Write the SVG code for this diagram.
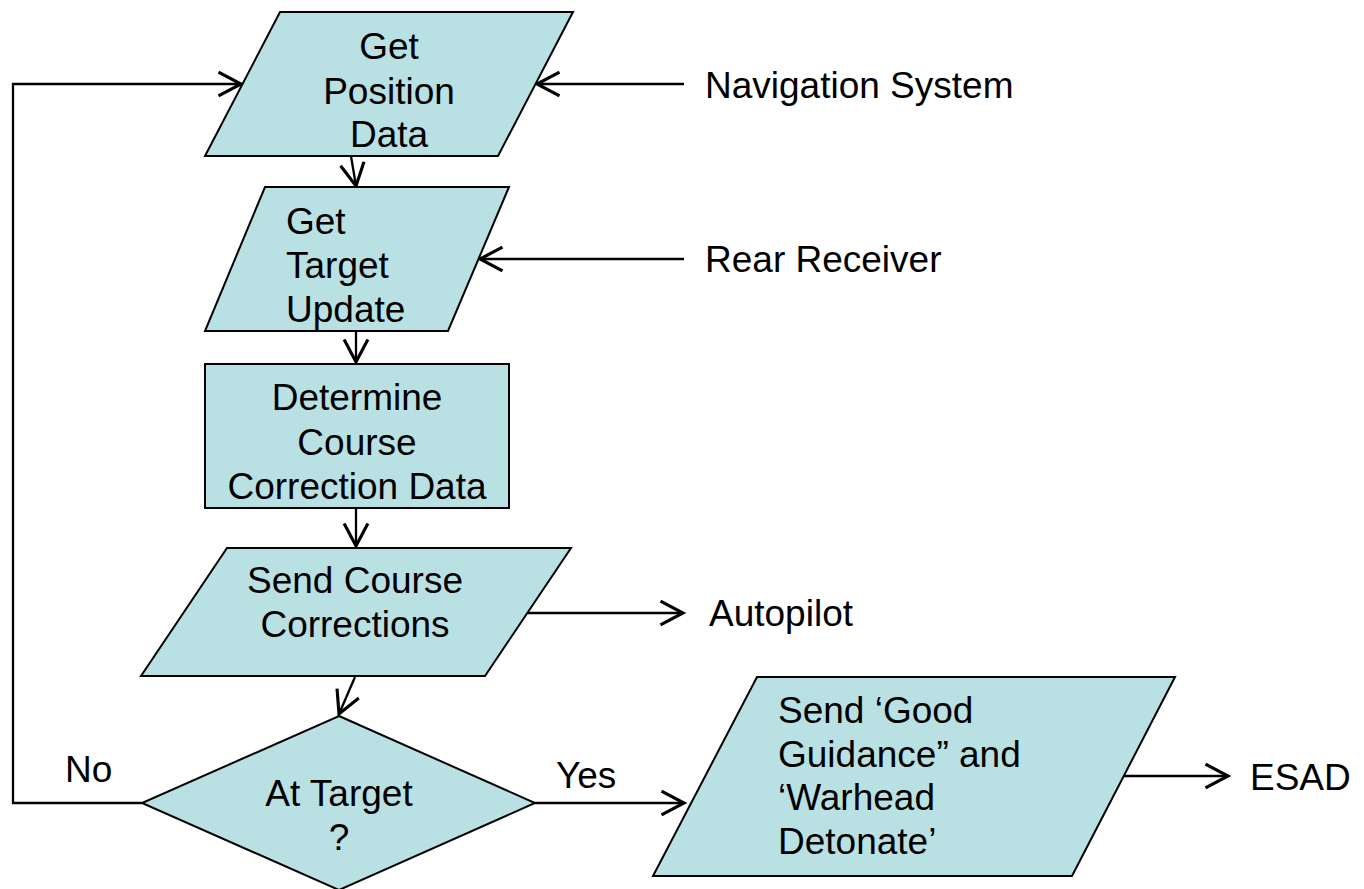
<svg xmlns="http://www.w3.org/2000/svg" width="1364" height="889" viewBox="0 0 1364 889">
<defs>
<style>
.n{fill:#B9E0E3;stroke:#000;stroke-width:2;stroke-linejoin:miter}
.t{font-family:"Liberation Sans",Arial,sans-serif;font-size:37px;fill:#000}
.c{text-anchor:middle}
.e{fill:none;stroke:#000;stroke-width:2.3}
</style>
<marker id="a" markerUnits="userSpaceOnUse" markerWidth="30" markerHeight="30" viewBox="-20 -12 22 24" refX="0" refY="0" orient="auto">
<path d="M-18,-9.5 L0,0 L-18,9.5" fill="none" stroke="#000" stroke-width="2.5"/>
</marker>
</defs>
<rect width="1364" height="889" fill="#fff"/>
<g id="connectors">
<polyline class="e" points="142,803 13,803 13,84 241,84" marker-end="url(#a)"/>
<line class="e" x1="684" y1="84" x2="537" y2="84" marker-end="url(#a)"/>
<line class="e" x1="351" y1="156" x2="356" y2="186" marker-end="url(#a)"/>
<line class="e" x1="684" y1="259" x2="480" y2="259" marker-end="url(#a)"/>
<line class="e" x1="356" y1="331" x2="356" y2="362" marker-end="url(#a)"/>
<line class="e" x1="356" y1="508" x2="356" y2="546" marker-end="url(#a)"/>
<line class="e" x1="528" y1="613" x2="683" y2="613" marker-end="url(#a)"/>
<line class="e" x1="355" y1="677" x2="339" y2="714" marker-end="url(#a)"/>
<line class="e" x1="535" y1="803" x2="684" y2="803" marker-end="url(#a)"/>
<line class="e" x1="1122" y1="776" x2="1228" y2="776" marker-end="url(#a)"/>
</g>
<g id="get-position">
<polygon class="n" points="280,12 573,12 498,156 205,156"/>
<text class="t c" x="389" y="59">Get</text>
<text class="t c" x="389" y="104">Position</text>
<text class="t c" x="389" y="147">Data</text>
</g>
<g id="get-target">
<polygon class="n" points="265,187 509,187 448,331 205,331"/>
<text class="t" x="286" y="234">Get</text>
<text class="t" x="286" y="278">Target</text>
<text class="t" x="286" y="322">Update</text>
</g>
<g id="determine">
<rect class="n" x="205" y="364" width="304" height="144"/>
<text class="t c" x="357" y="410">Determine</text>
<text class="t c" x="357" y="455">Course</text>
<text class="t c" x="357" y="499">Correction Data</text>
</g>
<g id="send-corrections">
<polygon class="n" points="227,548 571,548 485,676 141,676"/>
<text class="t c" x="355" y="593">Send Course</text>
<text class="t c" x="355" y="637">Corrections</text>
</g>
<g id="at-target">
<polygon class="n" points="339,716 535,803 339,890 142,803"/>
<text class="t c" x="339" y="806">At Target</text>
<text class="t c" x="339" y="850">?</text>
</g>
<g id="send-good">
<polygon class="n" points="757,677 1175,677 1072,876 653,876"/>
<text class="t" x="778" y="723">Send ‘Good</text>
<text class="t" x="778" y="767">Guidance” and</text>
<text class="t" x="778" y="810">‘Warhead</text>
<text class="t" x="778" y="854">Detonate’</text>
</g>
<g id="labels">
<text class="t" x="705" y="98">Navigation System</text>
<text class="t" x="705" y="272">Rear Receiver</text>
<text class="t" x="709" y="626">Autopilot</text>
<text class="t" x="65" y="782">No</text>
<text class="t" x="556" y="788">Yes</text>
<text class="t" x="1250" y="790">ESAD</text>
</g>
</svg>
